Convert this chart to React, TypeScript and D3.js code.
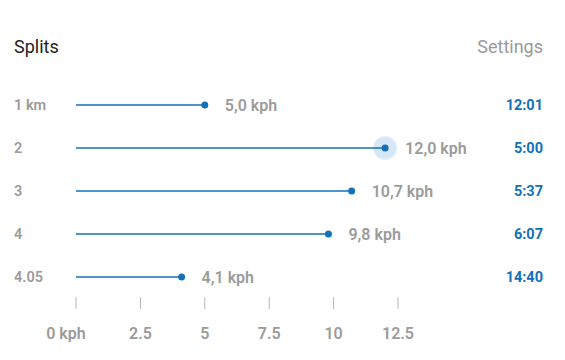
import React, { useEffect, useRef } from 'react';
import * as d3 from 'd3';

const splitLabels = ['1 km', '2', '3', '4', '4.05'];
const speeds = [5.0, 12.0, 10.7, 9.8, 4.1];
const paceLabels = ['12:01', '5:00', '5:37', '6:07', '14:40'];
const highlighted = 1;
const tickValues = [0, 2.5, 5, 7.5, 10, 12.5];

const width = 565;
const height = 360;
const blue = '#1271b9';
const gray = '#9b9b9b';
const font = 'Roboto, "Noto Sans", sans-serif';

export default function App() {
  const svgRef = useRef<SVGSVGElement>(null);

  useEffect(() => {
    if (!svgRef.current) return;
    const svg = d3.select(svgRef.current);
    svg.selectAll('*').remove();

    const x = d3.scaleLinear().domain([0, 12.5]).range([76, 398]);
    const y = d3.scalePoint<string>().domain(splitLabels).range([105, 277]);

    // Header
    svg.append('text')
      .attr('x', 14).attr('y', 53)
      .attr('font-size', 18).attr('fill', '#222')
      .attr('font-family', font)
      .text('Splits');
    svg.append('text')
      .attr('x', 543).attr('y', 53)
      .attr('text-anchor', 'end')
      .attr('font-size', 18).attr('fill', '#9a9a9a')
      .attr('font-family', font)
      .text('Settings');

    const rows = svg.selectAll('g.row')
      .data(speeds)
      .enter()
      .append('g')
      .attr('class', 'row')
      .attr('transform', (d, i) => `translate(0,${y(splitLabels[i])})`);

    rows.append('text')
      .attr('x', 14).attr('dy', '0.35em')
      .attr('font-size', 14.5).attr('font-weight', 600)
      .attr('fill', gray).attr('font-family', font)
      .text((d, i) => splitLabels[i]);

    rows.filter((d, i) => i === highlighted)
      .append('circle')
      .attr('cx', d => x(d)).attr('r', 11.5)
      .attr('fill', '#d5e6f5')
      .attr('stroke', '#e6f0fa').attr('stroke-width', 1.5);

    rows.append('line')
      .attr('x1', x(0)).attr('x2', d => x(d))
      .attr('stroke', blue).attr('stroke-width', 1.5);

    rows.append('circle')
      .attr('cx', d => x(d)).attr('r', 3.5)
      .attr('fill', blue);

    rows.append('text')
      .attr('x', d => x(d) + 20).attr('dy', '0.35em')
      .attr('font-size', 16).attr('font-weight', 600)
      .attr('fill', gray).attr('font-family', font)
      .text(d => `${d3.format('.1f')(d).replace('.', ',')} kph`);

    rows.append('text')
      .attr('x', 543).attr('dy', '0.35em')
      .attr('text-anchor', 'end')
      .attr('font-size', 14.5).attr('font-weight', 700)
      .attr('fill', blue).attr('font-family', font)
      .text((d, i) => paceLabels[i]);

    // Axis
    const axis = svg.append('g').attr('transform', 'translate(0,297)');
    axis.selectAll('line')
      .data(tickValues)
      .enter()
      .append('line')
      .attr('x1', d => x(d)).attr('x2', d => x(d))
      .attr('y1', 0).attr('y2', 12)
      .attr('stroke', '#b5b5b5').attr('stroke-width', 1);
    axis.selectAll('text')
      .data(tickValues)
      .enter()
      .append('text')
      .attr('x', d => x(d)).attr('y', 36)
      .attr('dx', d => (d === 0 ? -10 : 0))
      .attr('dy', '0.35em')
      .attr('text-anchor', 'middle')
      .attr('font-size', 16).attr('font-weight', 600)
      .attr('fill', gray).attr('font-family', font)
      .text(d => (d === 0 ? '0 kph' : String(d)));
  }, []);

  return (
    <svg
      ref={svgRef}
      width={width}
      height={height}
      style={{ position: 'absolute', left: 0, top: 0, background: '#fff' }}
    />
  );
}
